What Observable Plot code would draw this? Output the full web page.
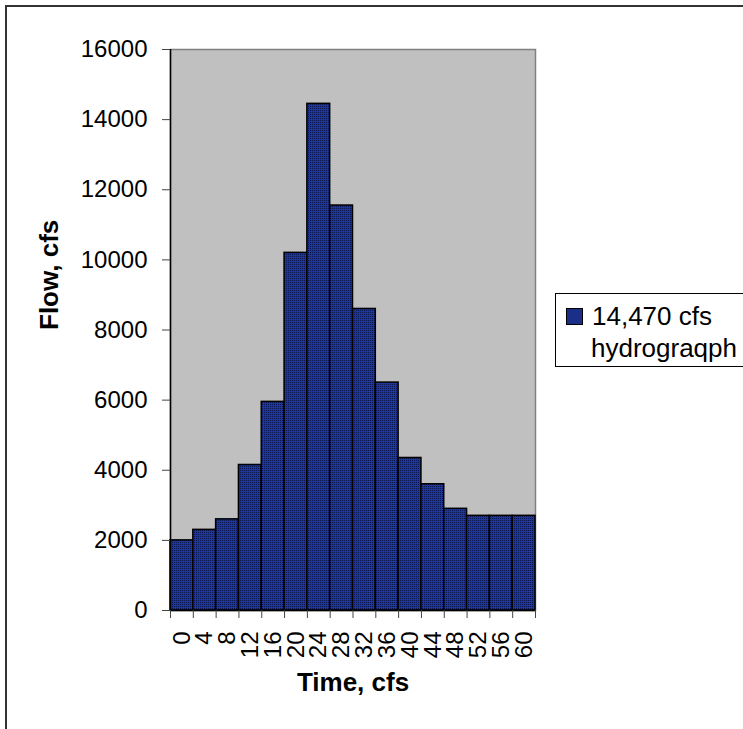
<!DOCTYPE html>
<html>
<head>
<meta charset="utf-8">
<script src="https://cdn.jsdelivr.net/npm/d3@7"></script>
<script src="https://cdn.jsdelivr.net/npm/@observablehq/plot@0.6"></script>
<style>
  html, body { margin: 0; padding: 0; background: #fff; }
  #wrap { position: relative; width: 743px; height: 729px; overflow: hidden; font-family: Arial, "Liberation Sans", sans-serif; }
  #border { position: absolute; left: 5px; top: 5px; width: 900px; height: 900px; border-left: 2px solid #333; border-top: 2px solid #333; }
  #legend { position: absolute; left: 555px; top: 293px; width: 220px; height: 72px; border: 1px solid #000; background: #fff; }
  #legend .sw { position: absolute; left: 10px; top: 14px; width: 15px; height: 15px; border: 1px solid #000; background: #1c2f88; }
  #legend .t { position: absolute; left: 36px; font-size: 26px; line-height: 26px; color: #000; white-space: nowrap; }
  #chart { position: absolute; left: 0; top: 0; }
</style>
</head>
<body>
<div id="wrap">
  <div id="border"></div>
  <div id="chart"></div>
  <div id="legend">
    <div class="sw"></div>
    <div class="t" style="top:9px">14,470 cfs</div>
    <div class="t" style="left:35px;top:41px">hydrograqph</div>
  </div>
</div>
<script>
// Data
const times = ["0", "4", "8", "12", "16", "20", "24", "28", "32", "36", "40", "44", "48", "52", "56", "60"];
const flows = [2000, 2300, 2600, 4150, 5950, 10200, 14450, 11550, 8600, 6500, 4350, 3600, 2900, 2700, 2700, 2700];
const yTicks = [0, 2000, 4000, 6000, 8000, 10000, 12000, 14000, 16000];
const xTitle = "Time, cfs";
const yTitle = "Flow, cfs";

const data = times.map((t, i) => ({t, flow: flows[i]}));

const W = 743, H = 729;
const mL = 170, mR = 208, mT = 49, mB = 119;
const bw = (W - mL - mR) / times.length;

const plot = Plot.plot({
  width: W,
  height: H,
  marginLeft: mL,
  marginRight: mR,
  marginTop: mT,
  marginBottom: mB,
  style: {fontFamily: "Arial, 'Liberation Sans', sans-serif", fontSize: "24px", background: "transparent", color: "#000", overflow: "visible"},
  x: {type: "band", domain: times, padding: 0, round: false, label: null},
  y: {domain: [0, 16000], label: null},
  marks: [
    Plot.frame({fill: "#c0c0c0", stroke: "#808080", strokeWidth: 1.5}),
    Plot.barY(data, {x: "t", y: "flow", fill: "url(#dots)", stroke: "#000", strokeWidth: 1.5}),
    Plot.ruleY([0], {stroke: "#000", strokeWidth: 1.5}),
    Plot.ruleX([times[0]], {x: d => d, y1: 0, y2: 16000, dx: -bw / 2, stroke: "#000", strokeWidth: 1.5}),
    Plot.ruleX(times, {x: d => d, y1: 0, y2: 0, insetBottom: -8, dx: -bw / 2, stroke: "#444"}),
    Plot.ruleX([times[times.length - 1]], {x: d => d, y1: 0, y2: 0, insetBottom: -8, dx: bw / 2, stroke: "#444"}),
    Plot.axisY({ticks: yTicks, tickSize: 8, tickPadding: 15, tickFormat: d => String(d), stroke: "#444", fontSize: 24}),
    Plot.axisX({tickRotate: -90, tickSize: 0, tickPadding: 21, fontSize: 24}),
    Plot.text([yTitle], {frameAnchor: "left", dx: -121, rotate: -90, fontWeight: "bold", fontSize: 26, text: d => d}),
    Plot.text([xTitle], {frameAnchor: "bottom", dy: 80, fontWeight: "bold", fontSize: 26, text: d => d})
  ]
});

const svg = d3.select(plot);
const defs = svg.insert("defs", ":first-child");
const pat = defs.append("pattern").attr("id", "dots").attr("patternUnits", "userSpaceOnUse").attr("width", 2).attr("height", 2);
pat.append("rect").attr("width", 2).attr("height", 2).attr("fill", "#1f3796");
pat.append("rect").attr("width", 1).attr("height", 1).attr("fill", "#0b1650");

document.getElementById("chart").appendChild(plot);
</script>
</body>
</html>
